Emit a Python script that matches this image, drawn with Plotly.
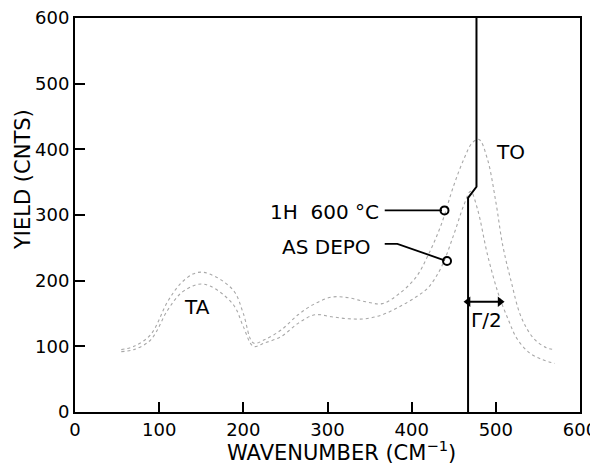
import plotly.graph_objects as go

# Spectrum after anneal (1H 600 °C)
wn_anneal = [55, 70, 90, 110, 125, 140, 150, 160, 175, 190, 200, 212, 225, 245, 265, 285, 305, 325,
             345, 365, 385, 405, 420, 435, 450, 462, 472, 480, 490, 500, 508, 518, 530, 545, 560, 570]
y_anneal = [95, 100, 118, 168, 195, 210, 213, 210, 200, 182, 150, 105, 110, 125, 148, 165, 175, 174,
            168, 165, 180, 205, 240, 285, 345, 385, 410, 415, 385, 320, 255, 200, 145, 112, 98, 95]

# As-deposited spectrum
wn_depo = [55, 70, 90, 110, 125, 140, 150, 160, 175, 190, 200, 212, 225, 245, 265, 285, 305, 325,
           345, 365, 385, 405, 420, 435, 450, 462, 470, 478, 490, 503, 515, 525, 540, 555, 570]
y_depo = [92, 95, 110, 155, 180, 192, 195, 192, 180, 160, 130, 100, 105, 115, 135, 148, 145, 142,
          142, 148, 160, 175, 190, 220, 270, 315, 336, 310, 240, 180, 140, 112, 90, 80, 74]

# Peak-position marker line
wn_marker = [467, 467, 477, 477]
y_marker = [0, 326, 343, 600]

# Label leader lines and their end circles
lead_1h_x = [368, 436]
lead_1h_y = [307, 307]
lead_depo_x = [368, 383, 439]
lead_depo_y = [256, 256, 231]
circle_x = [439, 442]
circle_y = [307, 230]

# Half-width (Γ/2) double arrow
gamma_x = [467, 505]
gamma_y = [168, 168]

x_ticks = [0, 100, 200, 300, 400, 500, 600]
y_ticks = [0, 100, 200, 300, 400, 500, 600]

FONT = "DejaVu Sans"

fig = go.Figure()
for wx, wy in ((wn_anneal, y_anneal), (wn_depo, y_depo)):
    fig.add_trace(go.Scatter(x=wx, y=wy, mode="lines",
                             line=dict(color="#a8a8a8", width=1.1, dash="dot", shape="spline"),
                             showlegend=False, hoverinfo="skip"))
fig.add_trace(go.Scatter(x=wn_marker, y=y_marker, mode="lines",
                         line=dict(color="black", width=2),
                         showlegend=False, hoverinfo="skip"))
fig.add_trace(go.Scatter(x=lead_1h_x, y=lead_1h_y, mode="lines",
                         line=dict(color="black", width=1.8),
                         showlegend=False, hoverinfo="skip"))
fig.add_trace(go.Scatter(x=lead_depo_x, y=lead_depo_y, mode="lines",
                         line=dict(color="black", width=1.8),
                         showlegend=False, hoverinfo="skip"))
fig.add_trace(go.Scatter(x=circle_x, y=circle_y, mode="markers",
                         marker=dict(symbol="circle-open", size=8, color="black", line=dict(width=2)),
                         showlegend=False, hoverinfo="skip"))
fig.add_trace(go.Scatter(x=gamma_x, y=gamma_y, mode="lines+markers",
                         line=dict(color="black", width=2),
                         marker=dict(symbol=["triangle-left", "triangle-right"], size=9, color="black"),
                         showlegend=False, hoverinfo="skip"))

ann_font = dict(family=FONT, size=20, color="black")
title_font = dict(family=FONT, size=21, color="black")
annotations = [
    dict(x=145, y=160, text="TA", showarrow=False, font=ann_font),
    dict(x=517, y=396, text="TO", showarrow=False, font=ann_font),
    dict(x=364, y=305, text="1H  600 °C", showarrow=False, xanchor="right", font=ann_font),
    dict(x=354, y=251, text="AS DEPO", showarrow=False, xanchor="right", font=ann_font),
    dict(x=489, y=140, text="Γ/2", showarrow=False, font=ann_font),
    dict(x=0.527, y=-0.1, xref="paper", yref="paper", xanchor="center", yanchor="middle",
         showarrow=False, text="WAVENUMBER (CM<sup>−1</sup>)", font=title_font),
    dict(x=-0.104, y=0.59, xref="paper", yref="paper", xanchor="center", yanchor="middle",
         showarrow=False, text="YIELD (CNTS)", textangle=-90, font=title_font),
]

axis_common = dict(showgrid=False, zeroline=False, showline=True, linecolor="black", linewidth=2,
                   mirror=True, ticks="inside", ticklen=10, tickwidth=2, tickcolor="black",
                   automargin=False, ticklabeloverflow="allow",
                   tickfont=dict(family=FONT, size=18, color="black"))

fig.update_layout(
    width=590, height=458,
    margin=dict(l=67, r=18, t=10, b=54),
    plot_bgcolor="white", paper_bgcolor="white",
    xaxis=dict(range=[0, 600], tickvals=x_ticks, ticktext=[str(v) for v in x_ticks], **axis_common),
    yaxis=dict(range=[0, 600], tickvals=y_ticks, ticktext=[str(v) for v in y_ticks], **axis_common),
    annotations=annotations,
    font=dict(family=FONT, color="black"),
)

fig.write_html("out.html")
